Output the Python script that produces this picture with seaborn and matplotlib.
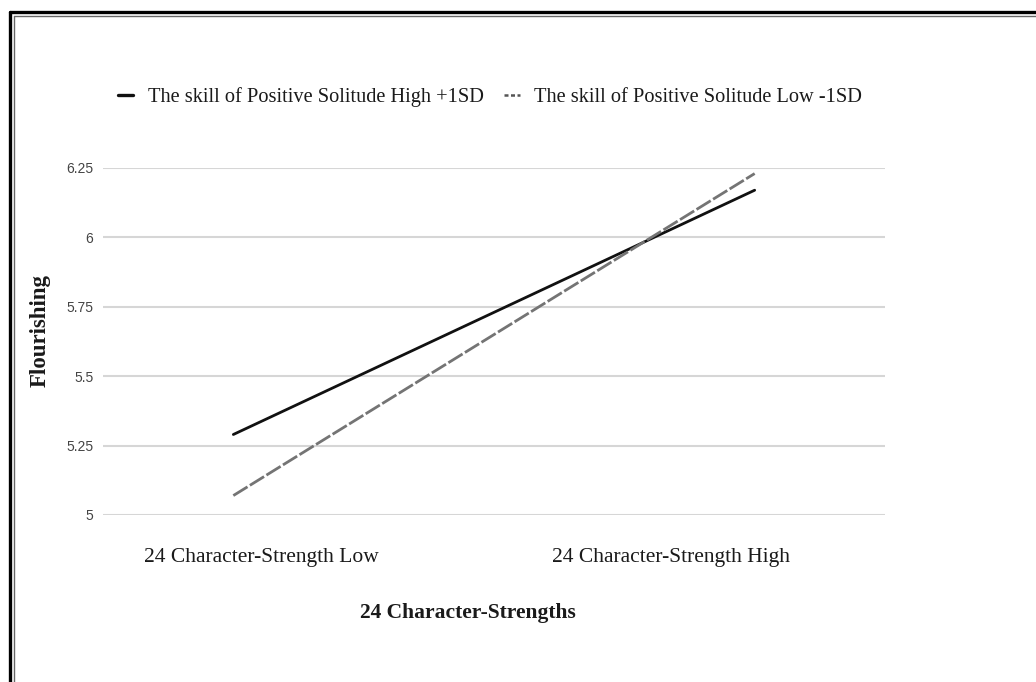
import matplotlib
matplotlib.use('agg')
import matplotlib.pyplot as plt
from matplotlib.lines import Line2D
import seaborn as sns
import pandas as pd

# data
levels = ['24 Character-Strength Low', '24 Character-Strength High']
high_sd = [5.29, 6.17]
low_sd = [5.07, 6.23]
series_names = ['The skill of Positive Solitude High +1SD',
                'The skill of Positive Solitude Low -1SD']
y_ticks = [5, 5.25, 5.5, 5.75, 6, 6.25]
y_ticklabels = ['5', '5.25', '5.5', '5.75', '6', '6.25']

df = pd.DataFrame({
    'pos': list(range(len(levels))) * 2,
    'value': high_sd + low_sd,
    'group': [series_names[0]] * len(levels) + [series_names[1]] * len(levels),
})

sns.set_theme(style='white')
plt.rcParams['font.family'] = ['Liberation Serif', 'DejaVu Serif']

fig = plt.figure(figsize=(10.36, 6.82), dpi=100)
ax = fig.add_axes([103 / 1036, 1 - 515 / 682, 782 / 1036, 347 / 682])

sns.lineplot(data=df[df['group'] == series_names[0]], x='pos', y='value',
             color='#111111', linewidth=2.0, ax=ax, legend=False)
sns.lineplot(data=df[df['group'] == series_names[1]], x='pos', y='value',
             color='#747474', linewidth=2.0, dashes=False, ax=ax, legend=False)
ax.lines[1].set_dashes((6, 1.0))

ax.set_xlim(-0.25, 1.25)
ax.set_ylim(5, 6.25)
ax.set_yticks(y_ticks)
ax.set_yticklabels(y_ticklabels, family='Liberation Sans', fontsize=10, color='#444444')
ax.yaxis.grid(True, color='#d6d6d6', linewidth=1.5)
ax.set_axisbelow(True)
ax.tick_params(axis='y', length=0, pad=7)

# tick labels sit slightly inward of the line ends in the original
ax.set_xticks([0.054, 0.839])
ax.set_xticklabels(levels, fontsize=15.5, color='#1a1a1a')
ax.tick_params(axis='x', length=0, pad=24)

for s in ax.spines.values():
    s.set_visible(False)

ax.set_xlabel('24 Character-Strengths', fontsize=15.5, fontweight='bold', color='#1a1a1a')
ax.xaxis.set_label_coords(0.467, -0.255)
ax.set_ylabel('Flourishing', fontsize=16.5, fontweight='bold', color='#1a1a1a')
ax.yaxis.set_label_coords(-0.067, 0.533)

handles = [Line2D([], [], color='#111111', linewidth=2.4),
           Line2D([], [], color='#555555', linewidth=1.8, dashes=(1.6, 1.0))]
fig.legend(handles, series_names, loc='center', ncol=2, frameon=False,
           bbox_to_anchor=(490 / 1036, 1 - 97 / 682), fontsize=14.7,
           handlelength=0.75, handletextpad=0.7, columnspacing=1.0,
           labelcolor='#1a1a1a')

# double frame at top and left edge
W, H = 1036, 682
fig.add_artist(Line2D([10 / W, 10 / W], [0, 1 - 12 / H], color='black', linewidth=2.4,
                      transform=fig.transFigure))
fig.add_artist(Line2D([10 / W, 1], [1 - 12 / H, 1 - 12 / H], color='black', linewidth=2.4,
                      transform=fig.transFigure))
fig.add_artist(Line2D([14 / W, 14 / W], [0, 1 - 16 / H], color='#666666', linewidth=1.0,
                      transform=fig.transFigure))
fig.add_artist(Line2D([14 / W, 1], [1 - 16 / H, 1 - 16 / H], color='#666666', linewidth=1.0,
                      transform=fig.transFigure))

fig.savefig('out.png', dpi=100, facecolor='white')
plt.close(fig)
